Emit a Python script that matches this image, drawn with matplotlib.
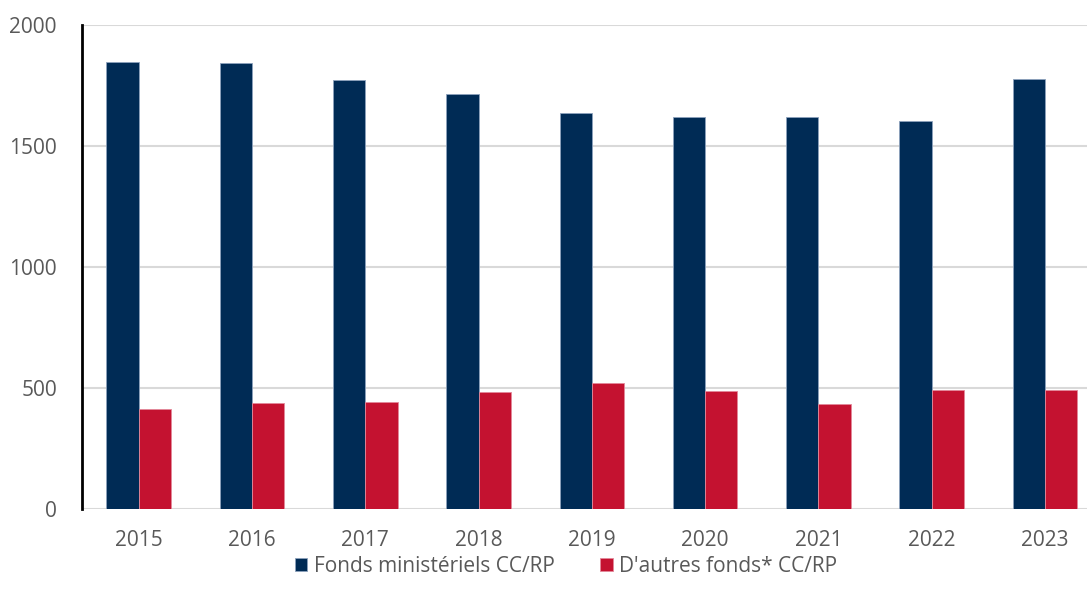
import matplotlib.pyplot as plt
import numpy as np

plt.rcParams['font.family'] = ['Open Sans', 'DejaVu Sans']

years = ['2015', '2016', '2017', '2018', '2019', '2020', '2021', '2022', '2023']
fonds_ministeriels = [1847, 1842, 1772, 1715, 1637, 1621, 1621, 1605, 1777]
autres_fonds = [413, 438, 442, 483, 520, 487, 435, 494, 491]

blue = '#002B55'
red = '#C41230'
grey_text = '#595959'

fig = plt.figure(figsize=(10.87, 6.02), dpi=100)
ax = fig.add_axes([82 / 1087, 1 - 509.3 / 602, 1 - 82 / 1087, (509.3 - 25) / 602])

x = np.arange(len(years))
w = 0.285
ax.bar(x - w / 2, fonds_ministeriels, w, color=blue, edgecolor='#8da2bd', linewidth=0.6,
       label='Fonds ministériels CC/RP', zorder=3)
ax.bar(x + w / 2, autres_fonds, w, color=red, edgecolor='#e3889a', linewidth=0.6,
       label="D'autres fonds* CC/RP", zorder=3)

ax.set_xlim(-0.5, 8.37)
ax.set_ylim(0, 2000)
ax.set_yticks([0, 500, 1000, 1500, 2000])
ax.set_xticks(x)
ax.set_xticklabels(years)
ax.yaxis.grid(True, color='#D9D9D9', linewidth=1.5, zorder=0)
ax.set_axisbelow(True)

for s in ['top', 'right', 'bottom']:
    ax.spines[s].set_visible(False)
ax.spines['left'].set_color('black')
ax.spines['left'].set_linewidth(2)
ax.tick_params(axis='both', length=0, labelsize=15, labelcolor=grey_text)
ax.tick_params(axis='y', pad=18)
ax.tick_params(axis='x', pad=15)

fig.legend(loc='center', bbox_to_anchor=(566 / 1087, 1 - 566 / 602), ncol=2,
           frameon=False, fontsize=15, labelcolor=grey_text, handlelength=0.6,
           handleheight=0.6, handletextpad=0.3, columnspacing=2.2)

fig.savefig('out.png', dpi=100)
